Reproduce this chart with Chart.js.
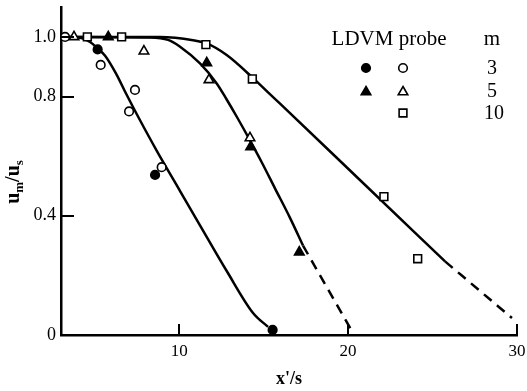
<!DOCTYPE html>
<html>
<head>
<meta charset="utf-8">
<script src="https://cdn.jsdelivr.net/npm/chart.js@4/dist/chart.umd.min.js"></script>
<style>
  html, body { margin: 0; padding: 0; background: #fff; }
  #wrap { width: 527px; height: 391px; }
</style>
</head>
<body>
<div id="wrap"><canvas id="c" width="527" height="391"></canvas></div>
<script>
// ---- Data ----
const xTickValues = [10, 20, 30];
const xTickLabels = ['10', '20', '30'];
const yTickValues = [0, 0.4, 0.8, 1.0];
const yTickLabels = ['0', '0.4', '0.8', '1.0'];

// Measured points: [x'/s, um/us]
const ldvmM3  = [[5.17, 0.958], [8.57, 0.537], [15.53, 0.017]];
const probeM3 = [[3.24, 1.0], [5.35, 0.906], [7.38, 0.822], [7.03, 0.75], [8.96, 0.563]];
const ldvmM5  = [[5.80, 1.0], [11.63, 0.913], [14.23, 0.631], [17.11, 0.278]];
const probeM5 = [[3.77, 1.0], [7.91, 0.952], [11.76, 0.856], [14.19, 0.661]];
const probeM10 = [[4.56, 1.0], [6.59, 1.0], [11.58, 0.974], [14.33, 0.859], [22.12, 0.464], [24.12, 0.256]];

// Fitted curves
const curveM3 = [[3.0, 1.0], [4.13, 0.997], [4.72, 0.983], [5.19, 0.96], [5.61, 0.937], [6.26, 0.877], [6.85, 0.81], [7.56, 0.733], [8.68, 0.617], [10.05, 0.483], [11.23, 0.368], [12.83, 0.213], [14.37, 0.074], [15.26, 0.027]];
const curveM5 = [[3.0, 1.0], [8.27, 0.998], [9.34, 0.99], [10.05, 0.967], [11.23, 0.911], [12.22, 0.844], [12.81, 0.79], [13.40, 0.733], [14.19, 0.653], [14.90, 0.578], [15.67, 0.492], [16.56, 0.393], [17.33, 0.30]];
const curveM5Dash = [[17.33, 0.30], [20.29, 0.007]];
const curveM10 = [[3.0, 1.0], [8.86, 1.0], [10.82, 0.989], [11.63, 0.978], [12.81, 0.939], [14.39, 0.861], [15.37, 0.808], [15.97, 0.776], [20.70, 0.52], [25.74, 0.247]];
const curveM10Dash = [[25.74, 0.247], [29.70, 0.057]];

const legendTitle = 'LDVM probe';
const legendMTitle = 'm';
const legendMValues = ['3', '5', '10'];
const xTitle = "x'/s";

// ---- Build chart ----
const toXY = arr => arr.map(p => ({x: p[0], y: p[1]}));
const SERIF = '"Liberation Serif", "Times New Roman", serif';

function markerSet(label, data, style, filled, radius) {
  return {
    label, data: toXY(data), type: 'scatter', showLine: false, order: 0,
    pointStyle: style, pointRadius: radius, pointHoverRadius: radius,
    pointBorderWidth: 1.6, pointBorderColor: '#000',
    pointBackgroundColor: filled ? '#000' : '#fff'
  };
}
function lineSet(label, data, dashed) {
  return {
    label, data: toXY(data), type: 'scatter', showLine: true, order: 1,
    pointRadius: 0, pointHoverRadius: 0, borderColor: '#000', borderWidth: 2.5,
    borderDash: dashed ? [10, 7] : [], cubicInterpolationMode: 'monotone', fill: false
  };
}

const insideTicks = {
  id: 'insideTicks',
  afterDraw(chart) {
    const {ctx, scales: {x, y}, chartArea} = chart;
    ctx.save();
    ctx.strokeStyle = '#000';
    ctx.lineWidth = 2;
    xTickValues.forEach(v => {
      const px = Math.round(x.getPixelForValue(v));
      ctx.beginPath(); ctx.moveTo(px, chartArea.bottom); ctx.lineTo(px, chartArea.bottom - 11); ctx.stroke();
    });
    yTickValues.forEach(v => {
      if (v === 0) return;
      const py = Math.round(y.getPixelForValue(v));
      ctx.beginPath(); ctx.moveTo(chartArea.left, py); ctx.lineTo(chartArea.left + 13, py); ctx.stroke();
    });
    ctx.restore();
  }
};

function drawMarker(ctx, style, filled, cx, cy, r) {
  ctx.beginPath();
  if (style === 'circle') {
    ctx.arc(cx, cy, r, 0, Math.PI * 2);
  } else if (style === 'triangle') {
    for (let i = 0; i < 3; i++) {
      const a = i * 2 * Math.PI / 3;
      const px = cx + Math.sin(a) * r, py = cy - Math.cos(a) * r;
      if (i === 0) ctx.moveTo(px, py); else ctx.lineTo(px, py);
    }
    ctx.closePath();
  } else {
    const s = Math.SQRT1_2 * r;
    ctx.rect(cx - s, cy - s, 2 * s, 2 * s);
  }
  ctx.fillStyle = filled ? '#000' : '#fff';
  ctx.fill();
  ctx.lineWidth = 1.6;
  ctx.strokeStyle = '#000';
  ctx.stroke();
}

const tableLegend = {
  id: 'tableLegend',
  afterDraw(chart) {
    const ctx = chart.ctx;
    ctx.save();
    ctx.fillStyle = '#000';
    ctx.font = '21px ' + SERIF;
    ctx.textAlign = 'center';
    ctx.textBaseline = 'middle';
    ctx.fillText(legendTitle, 389, 39);
    ctx.fillText(legendMTitle, 492, 39);
    ctx.font = '20px ' + SERIF;
    ctx.fillText(legendMValues[0], 492, 69);
    ctx.fillText(legendMValues[1], 492, 92);
    ctx.fillText(legendMValues[2], 494, 114);
    drawMarker(ctx, 'circle', true, 366, 68, 4.3);
    drawMarker(ctx, 'circle', false, 403, 68, 4.3);
    drawMarker(ctx, 'triangle', true, 366, 92, 5.5);
    drawMarker(ctx, 'triangle', false, 403, 92, 5.5);
    drawMarker(ctx, 'rect', false, 403, 113, 5.5);
    ctx.restore();
  }
};

const yTitle = {
  id: 'yTitle',
  afterDraw(chart) {
    const ctx = chart.ctx;
    ctx.save();
    const big = 'bold 20px ' + SERIF, small = 'bold 13px ' + SERIF;
    const parts = [['u', big, 0], ['m', small, 4], ['/u', big, 0], ['s', small, 4]];
    let total = 0;
    parts.forEach(p => { ctx.font = p[1]; total += ctx.measureText(p[0]).width; });
    ctx.translate(19, 182);
    ctx.rotate(-Math.PI / 2);
    ctx.fillStyle = '#000';
    ctx.textBaseline = 'alphabetic';
    ctx.textAlign = 'left';
    let cx = -total / 2;
    parts.forEach(p => {
      ctx.font = p[1];
      ctx.fillText(p[0], cx, p[2]);
      cx += ctx.measureText(p[0]).width;
    });
    ctx.restore();
  }
};

new Chart(document.getElementById('c'), {
  type: 'scatter',
  data: {
    datasets: [
      markerSet('LDVM m=3', ldvmM3, 'circle', true, 4.3),
      markerSet('probe m=3', probeM3, 'circle', false, 4.3),
      markerSet('LDVM m=5', ldvmM5, 'triangle', true, 5.5),
      markerSet('probe m=5', probeM5, 'triangle', false, 5.5),
      markerSet('probe m=10', probeM10, 'rect', false, 5.5),
      lineSet('m=3', curveM3, false),
      lineSet('m=5', curveM5, false),
      lineSet('m=5 ext', curveM5Dash, true),
      lineSet('m=10', curveM10, false),
      lineSet('m=10 ext', curveM10Dash, true)
    ]
  },
  options: {
    responsive: false,
    animation: false,
    devicePixelRatio: 1,
    layout: { padding: { left: 0, right: 10, top: 5, bottom: 0 } },
    plugins: { legend: { display: false }, tooltip: { enabled: false } },
    scales: {
      x: {
        type: 'linear', min: 3, max: 30,
        afterBuildTicks: s => { s.ticks = xTickValues.map(v => ({value: v})); },
        afterFit: s => { s.height = 56; s.paddingLeft = 0; s.paddingRight = 0; },
        ticks: {
          color: '#000', padding: 6,
          font: { family: SERIF, size: 17 },
          callback: v => xTickLabels[xTickValues.indexOf(v)]
        },
        grid: { display: true, drawOnChartArea: false, drawTicks: false },
        border: { display: true, color: '#000', width: 2.5 },
        title: {
          display: true, text: xTitle, color: '#000',
          font: { family: SERIF, size: 18, weight: 'bold' },
          padding: { top: 0, bottom: 1 }
        }
      },
      y: {
        type: 'linear', min: 0, max: 1.1,
        afterBuildTicks: s => { s.ticks = yTickValues.map(v => ({value: v})); },
        afterFit: s => { s.width = 61; s.paddingTop = 0; s.paddingBottom = 0; },
        ticks: {
          color: '#000', padding: 5,
          font: { family: SERIF, size: 18 },
          callback: v => yTickLabels[yTickValues.indexOf(v)]
        },
        grid: { display: true, drawOnChartArea: false, drawTicks: false },
        border: { display: true, color: '#000', width: 2.5 }
      }
    }
  },
  plugins: [insideTicks, tableLegend, yTitle]
});
</script>
</body>
</html>
